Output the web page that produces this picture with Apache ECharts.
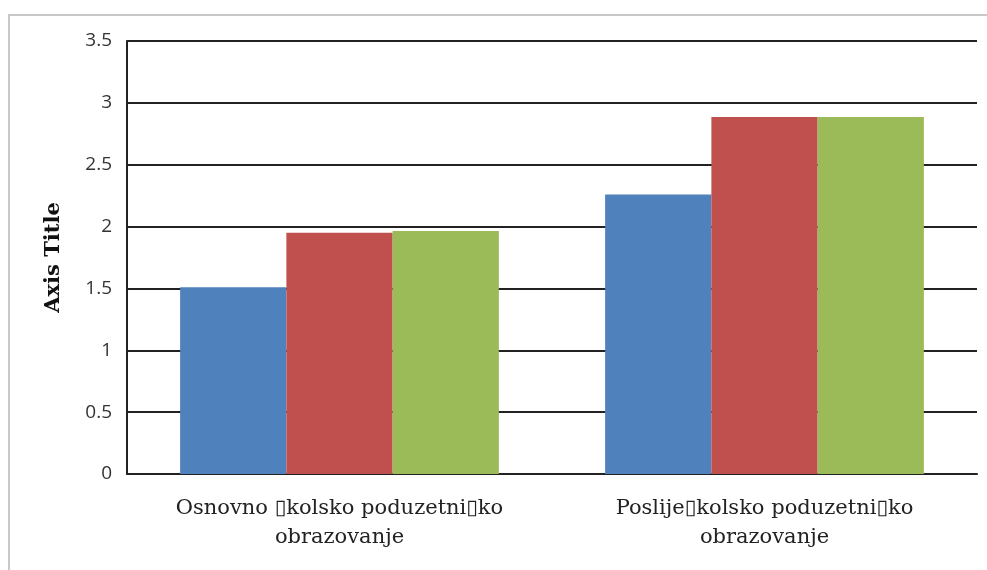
<!DOCTYPE html>
<html>
<head>
<meta charset="utf-8">
<script src="https://cdn.jsdelivr.net/npm/echarts@6/dist/echarts.min.js"></script>
<style>
  html, body { margin: 0; padding: 0; background: #fff; }
  #frame { position: absolute; left: 8px; top: 14px; width: 990px; height: 570px;
           border-left: 2px solid #c8c8c8; border-top: 2px solid #c8c8c8; }
  #chart { position: absolute; left: 0; top: 0; width: 987px; height: 570px; }
</style>
</head>
<body>
<div id="frame"></div>
<div id="chart"></div>
<script>
// categories (the missing glyphs in the original show as boxes)
const categories = [
  'Osnovno \u25AFkolsko poduzetni\u25AFko\nobrazovanje',
  'Poslije\u25AFkolsko poduzetni\u25AFko\nobrazovanje'
]
const seriesA = [1.51, 2.26]
const seriesB = [1.95, 2.885]
const seriesC = [1.965, 2.885]
const colors = ['#4F81BD', '#C0504D', '#9BBB59']

const chart = echarts.init(document.getElementById('chart'))
chart.setOption({
  animation: false,
  color: colors,
  grid: { left: 127, right: 10, top: 41, bottom: 96 },
  xAxis: {
    type: 'category',
    data: categories,
    axisLine: { lineStyle: { color: '#222', width: 2 } },
    axisTick: { show: false },
    axisLabel: {
      interval: 0,
      color: '#222',
      fontFamily: 'DejaVu Serif',
      fontSize: 21,
      lineHeight: 29,
      margin: 20
    }
  },
  yAxis: {
    type: 'value',
    min: 0,
    max: 3.5,
    interval: 0.5,
    name: 'Axis Title',
    nameLocation: 'middle',
    nameGap: 63,
    nameTextStyle: { fontFamily: 'DejaVu Serif', fontWeight: 'bold', fontSize: 21, color: '#111' },
    axisLine: { show: true, lineStyle: { color: '#222', width: 2 } },
    axisTick: { show: false },
    axisLabel: { color: '#333', fontFamily: 'Open Sans', fontSize: 19, margin: 15 },
    splitLine: { lineStyle: { color: '#222', width: 2 } }
  },
  series: [
    { name: 'A', type: 'bar', data: seriesA, barGap: '0%', barCategoryGap: '25%' },
    { name: 'B', type: 'bar', data: seriesB, barGap: '0%', barCategoryGap: '25%' },
    { name: 'C', type: 'bar', data: seriesC, barGap: '0%', barCategoryGap: '25%' }
  ]
})
</script>
</body>
</html>
